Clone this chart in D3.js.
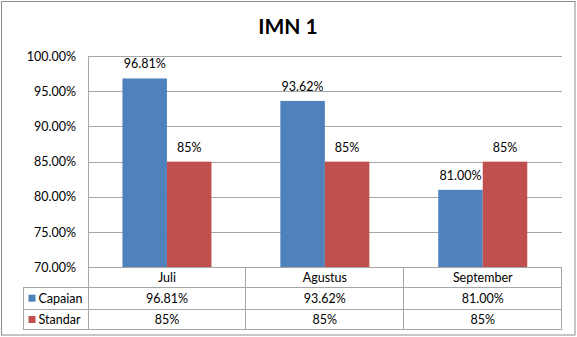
<!DOCTYPE html>
<html><head><meta charset="utf-8">
<script src="https://cdn.jsdelivr.net/npm/d3@7"></script>
<style>html,body{margin:0;padding:0;background:#fff}svg{display:block}</style>
</head><body>
<script>
const categories = ["Juli", "Agustus", "September"];
const seriesNames = ["Capaian", "Standar"];
const capaian = [96.81, 93.62, 81.00];
const standar = [85, 85, 85];
const capaianLabels = ["96.81%", "93.62%", "81.00%"];
const standarLabels = ["85%", "85%", "85%"];
const yTicks = [70, 75, 80, 85, 90, 95, 100];
const colors = ["#4F81BD", "#C0504D"];

(function () {
const W = 577, H = 337;
const font = "Lato, 'Open Sans', sans-serif";
const svg = d3.select("body").append("svg").attr("width", W).attr("height", H);

svg.append("rect").attr("x", 1.5).attr("y", 1.5).attr("width", W - 3.5).attr("height", H - 3.5)
  .attr("fill", "#fff").attr("stroke", "#8a8a8a").attr("stroke-width", 1);

const pLeft = 88, pRight = 561.7, pTop = 56, pBottom = 267.3;
const x = d3.scaleBand().domain(categories).range([pLeft, pRight]).paddingInner(0).paddingOuter(0);
const y = d3.scaleLinear().domain([70, 100]).range([pBottom, pTop]);
const barW = 44.5;
const xs = d3.scaleBand().domain(seriesNames).range([0, barW * 2]);

// title
svg.append("text").attr("x", 288).attr("y", 34).attr("text-anchor", "middle")
  .attr("font-family", font).attr("font-weight", "bold").attr("font-size", 21).attr("fill", "#000")
  .text("IMN 1");

// gridlines + axis
const yAxis = d3.axisLeft(y).tickValues(yTicks).tickSize(-(pRight - pLeft)).tickFormat(d => d.toFixed(2) + "%");
const gy = svg.append("g").attr("transform", `translate(${pLeft},0)`).call(yAxis);
gy.select(".domain").attr("stroke", "#a6a6a6").attr("shape-rendering", "crispEdges");
gy.selectAll(".tick line").attr("stroke", "#a6a6a6").attr("shape-rendering", "crispEdges");
gy.selectAll(".tick text").attr("x", -12).attr("font-family", font).attr("font-size", 12.5).attr("fill", "#000");

// bars
const data = categories.map((c, i) => ({c, vals: [capaian[i], standar[i]], labels: [capaianLabels[i], standarLabels[i]]}));
const groups = svg.append("g").selectAll("g").data(data).join("g")
  .attr("transform", d => `translate(${x(d.c) + (x.bandwidth() - barW * 2) / 2},0)`);
groups.selectAll("rect").data(d => d.vals.map((v, j) => ({v, j, s: seriesNames[j]}))).join("rect")
  .attr("x", d => xs(d.s)).attr("width", xs.bandwidth())
  .attr("y", d => y(d.v)).attr("height", d => y(70) - y(d.v))
  .attr("fill", d => colors[d.j]);
groups.selectAll("text").data(d => d.vals.map((v, j) => ({v, j, s: seriesNames[j], l: d.labels[j]}))).join("text")
  .attr("x", d => xs(d.s) + xs.bandwidth() / 2).attr("y", d => y(d.v) - 10)
  .attr("text-anchor", "middle").attr("font-family", font).attr("font-size", 12.5).attr("fill", "#000")
  .text(d => d.l);

// data table
const rowY = [pBottom, 287.7, 309, 329.5];
const legLeft = 23.3;
const tg = svg.append("g").attr("stroke", "#a6a6a6").attr("shape-rendering", "crispEdges");
tg.append("line").attr("x1", pLeft).attr("x2", pRight).attr("y1", rowY[0]).attr("y2", rowY[0]);
[1, 2, 3].forEach(i => tg.append("line").attr("x1", legLeft).attr("x2", pRight).attr("y1", rowY[i]).attr("y2", rowY[i]));
categories.forEach(c => tg.append("line").attr("x1", x(c)).attr("x2", x(c)).attr("y1", rowY[0]).attr("y2", rowY[3]));
tg.append("line").attr("x1", pRight).attr("x2", pRight).attr("y1", rowY[0]).attr("y2", rowY[3]);
tg.append("line").attr("x1", legLeft).attr("x2", legLeft).attr("y1", rowY[1]).attr("y2", rowY[3]);

const tt = svg.append("g").attr("font-family", font).attr("font-size", 12.5).attr("fill", "#000").attr("text-anchor", "middle");
categories.forEach((c, i) => {
  const cx = x(c) + x.bandwidth() / 2;
  tt.append("text").attr("x", cx).attr("y", rowY[0] + 14.5).text(c);
  tt.append("text").attr("x", cx).attr("y", rowY[1] + 15).text(capaianLabels[i]);
  tt.append("text").attr("x", cx).attr("y", rowY[2] + 15).text(standarLabels[i]);
});
seriesNames.forEach((s, j) => {
  const ry = rowY[j + 1];
  svg.append("rect").attr("x", 28.5).attr("y", ry + 7).attr("width", 7).attr("height", 7).attr("fill", colors[j]);
  svg.append("text").attr("x", 38.5).attr("y", ry + 15).attr("font-family", font).attr("font-size", 12.5)
    .attr("fill", "#000").text(s);
});
})();
</script>
</body></html>
